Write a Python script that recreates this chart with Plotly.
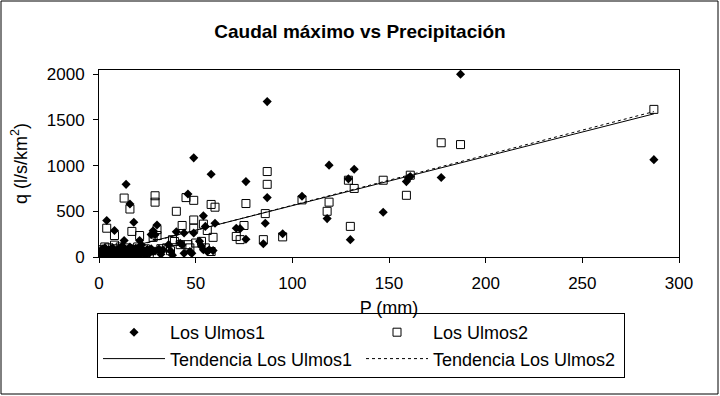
import plotly.graph_objects as go
import numpy as np

# ---- data (estimates) ----
ulmos1_x = [187, 87, 49, 119, 132, 58, 129, 160, 161, 177, 159, 76, 14, 46, 105, 87, 16, 147,
            54, 118, 4, 18, 60, 86, 30, 55, 71, 73, 8, 28, 44, 49, 40, 95, 27, 29, 76, 130,
            13, 21, 85, 287,
            1, 2, 2, 3, 3, 4, 5, 5, 6, 6, 7, 8, 8, 9, 10, 10, 11, 12, 12, 13, 14, 15, 15,
            16, 17, 18, 19, 19, 20, 21, 22, 23, 24, 25, 26, 27, 28, 29, 31, 32, 33, 36, 37,
            38, 42, 43, 44, 47, 48, 52, 53, 54, 56, 57, 59,
            1, 2, 4, 5, 7, 9, 11, 13, 14, 16, 18, 20, 22, 3, 6, 10, 17, 21]
ulmos1_y = [2000, 1700, 1085, 1005, 960, 905, 855, 865, 880, 870, 825, 825, 795, 690, 665, 650, 580, 490,
            450, 420, 400, 380, 370, 370, 350, 335, 315, 310, 290, 288, 262, 262, 275, 255, 245, 244, 195, 190,
            180, 180, 145, 1065,
            20, 40, 10, 60, 25, 5, 80, 35, 15, 55, 100, 30, 70, 10, 45, 90, 20, 120, 60, 30, 80, 10, 50,
            110, 35, 70, 15, 95, 50, 25, 130, 60, 20, 85, 40, 90, 60, 65, 87, 30, 80, 135, 67,
            20, 150, 135, 40, 60, 40, 171, 117, 80, 60, 80, 70,
            70, 90, 30, 15, 40, 60, 75, 95, 20, 55, 10, 85, 40, 100, 75, 15, 95, 110]

ulmos2_x = [287, 177, 187, 87, 161, 147, 129, 87, 132, 159, 45, 13, 29, 105, 49, 29, 119, 76,
            58, 60, 16, 40, 118, 86, 49, 43, 75, 54, 130, 4, 49, 56, 17, 30, 8, 21, 30, 71,
            95, 28, 59, 73, 85, 39, 53, 38, 46, 50, 42, 47, 35, 32, 37, 3, 8,
            1, 2, 4, 5, 6, 7, 9, 10, 11, 12, 14, 15, 17, 18, 20, 22, 24, 26, 55, 58]
ulmos2_y = [1615, 1250, 1230, 935, 895, 840, 840, 795, 750, 675, 650, 645, 670, 625, 620, 600, 600, 585,
            575, 545, 525, 500, 500, 475, 405, 345, 345, 360, 335, 315, 315, 290, 280, 300, 235, 235, 235, 225,
            220, 215, 215, 190, 190, 170, 171, 189, 135, 153, 135, 100, 100, 91, 69, 110, 130,
            30, 80, 50, 100, 20, 60, 90, 30, 110, 50, 100, 25, 75, 40, 110, 60, 90, 30, 100, 60]

# linear trend lines (slope, intercept)
trend1_coef = [5.37, 25.0]
trend2_coef = [5.48, 18.0]

x_ticks = [0, 50, 100, 150, 200, 250, 300]
y_ticks = [0, 500, 1000, 1500, 2000]

t1x = np.array([min(ulmos1_x), max(ulmos1_x)], dtype=float)
t2x = np.array([min(ulmos2_x), max(ulmos2_x)], dtype=float)

FONT = "Liberation Sans, Arial, sans-serif"

fig = go.Figure()
fig.add_trace(go.Scatter(x=ulmos1_x, y=ulmos1_y, mode="markers", name="Los Ulmos1",
                         marker=dict(symbol="diamond", size=7, color="black",
                                     line=dict(width=0))))
fig.add_trace(go.Scatter(x=ulmos2_x, y=ulmos2_y, mode="markers", name="Los Ulmos2",
                         marker=dict(symbol="square-open", size=8, color="black",
                                     line=dict(width=1, color="black"))))
fig.add_trace(go.Scatter(x=t1x, y=np.polyval(trend1_coef, t1x), mode="lines",
                         name="Tendencia Los Ulmos1", line=dict(color="black", width=1)))
fig.add_trace(go.Scatter(x=t2x, y=np.polyval(trend2_coef, t2x), mode="lines",
                         name="Tendencia Los Ulmos2",
                         line=dict(color="black", width=1, dash="dot")))

L, R, T, B = 99, 41, 70, 139
W, H = 720, 396
pw, ph = W - L - R, H - T - B

fig.update_layout(
    width=W, height=H,
    margin=dict(l=L, r=R, t=T, b=B, autoexpand=False),
    paper_bgcolor="white", plot_bgcolor="white",
    font=dict(family=FONT, size=17, color="black"),
    hovermode=False,
    title=dict(text="<b>Caudal máximo vs Precipitación</b>", x=0.5, xanchor="center",
               y=1 - 31 / H, yanchor="middle", yref="container",
               font=dict(family=FONT, size=19, color="black")),
    xaxis=dict(range=[0, 300], tickvals=x_ticks, ticks="outside", ticklen=5,
               tickcolor="black", showline=True, linecolor="black", linewidth=1,
               mirror=True, showgrid=False, zeroline=False, automargin=False,
               ticklabelstandoff=6, tickfont=dict(size=17),
               title=dict(text="P (mm)", standoff=8, font=dict(size=18))),
    yaxis=dict(range=[0, 2046], tickvals=y_ticks, ticks="outside", ticklen=5,
               tickcolor="black", showline=True, linecolor="black", linewidth=1,
               mirror=True, showgrid=False, zeroline=False, automargin=False,
               ticklabelstandoff=5, tickfont=dict(size=17),
               title=dict(text="q (l/s/km<sup>2</sup>)", standoff=14, font=dict(size=18))),
    showlegend=True,
    legend=dict(orientation="h", x=(97 - L) / pw, y=(T + ph - 313) / ph,
                xanchor="left", yanchor="top", bordercolor="black", borderwidth=1,
                entrywidth=186, entrywidthmode="pixels", itemwidth=62,
                font=dict(size=18), bgcolor="white"),
    shapes=[dict(type="rect", xref="paper", yref="paper",
                 x0=(1 - L) / pw, x1=(718 - L) / pw,
                 y0=(T + ph - 394) / ph, y1=(T + ph - 1) / ph,
                 line=dict(color="black", width=1), layer="below")],
)

fig.write_html("out.html", config={"displayModeBar": False},
               post_script="document.body.style.margin='0';")
